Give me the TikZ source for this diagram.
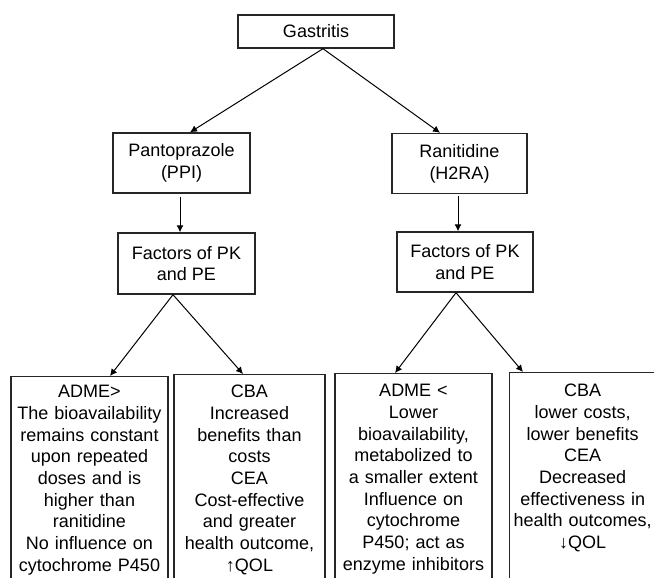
\documentclass[tikz,border=0pt]{standalone}
\usepackage{fontspec}
\setmainfont{Liberation Sans}
\usetikzlibrary{arrows.meta}
\begin{document}
\begin{tikzpicture}[x=1pt,y=-1pt,
  box/.style={draw=black!85, line width=1.4pt, inner sep=0pt, align=center, font=\fontsize{18}{21.7}\selectfont},
  low/.style={box, anchor=north},
  arr/.style={line width=1pt, -{Latex[length=7pt,width=7pt]}},
  ]
\useasboundingbox (0,0) rectangle (654,578);
\clip (0,0) rectangle (654,578);
\node[box, minimum width=156pt, minimum height=33pt] (g) at (316,31.5) {Gastritis};
\node[box, minimum width=137pt, minimum height=60pt] (p) at (181.5,163) {Pantoprazole\\(PPI)};
\node[box, minimum width=135pt, minimum height=60pt] (r) at (459.5,163.5) {Ranitidine\\(H2RA)};
\node[box, minimum width=137pt, minimum height=61pt] (fl) at (186.5,263.5) {Factors of PK\\and PE};
\node[box, minimum width=136pt, minimum height=60pt] (fr) at (465,262) {Factors of PK\\and PE};

\node[low, text width=157pt] (b1) at (89.5,376) {\rule{0pt}{21pt}ADME>\\The bioavailability\\remains constant\\upon repeated\\doses and is\\higher than\\ranitidine\\No influence on\\cytochrome P450\rule[-40pt]{0pt}{40pt}};
\node[low, text width=151pt] (b2) at (249.5,374) {\rule{0pt}{23pt}CBA\\Increased\\benefits than\\costs\\CEA\\Cost-effective\\and greater\\health outcome,\\\textuparrow QOL\rule[-40pt]{0pt}{40pt}};
\node[low, text width=157pt] (b3) at (413.5,373) {\rule{0pt}{23pt}ADME <\\Lower\\bioavailability,\\metabolized to\\a smaller extent\\Influence on\\cytochrome\\P450; act as\\enzyme inhibitors\rule[-40pt]{0pt}{40pt}};
\node[box, anchor=north west, text width=146pt] (b4) at (509,372) {\rule{0pt}{24pt}CBA\\lower costs,\\lower benefits\\CEA\\Decreased\\effectiveness in\\health outcomes,\\\textdownarrow QOL\rule[-60pt]{0pt}{60pt}};

\draw[arr] ([xshift=7pt]g.south) -- ([xshift=8.5pt]p.north);
\draw[arr] ([xshift=7pt]g.south) -- ([xshift=-19.5pt]r.north);
\draw[arr] ([xshift=-1.5pt,yshift=-3pt]p.south) -- ([xshift=-6.5pt]fl.north);
\draw[arr] ([xshift=-1.5pt,yshift=-2pt]r.south) -- ([xshift=-7pt]fr.north);
\draw[arr] ([xshift=-13.5pt]fl.south) -- ([xshift=20.5pt]b1.north);
\draw[arr] ([xshift=-13.5pt]fl.south) -- ([xshift=-6.5pt]b2.north);
\draw[arr] ([xshift=-9pt]fr.south) -- ([xshift=-18.5pt]b3.north);
\draw[arr] ([xshift=-9pt]fr.south) -- ([xshift=14pt]b4.north west);
\end{tikzpicture}
\end{document}
